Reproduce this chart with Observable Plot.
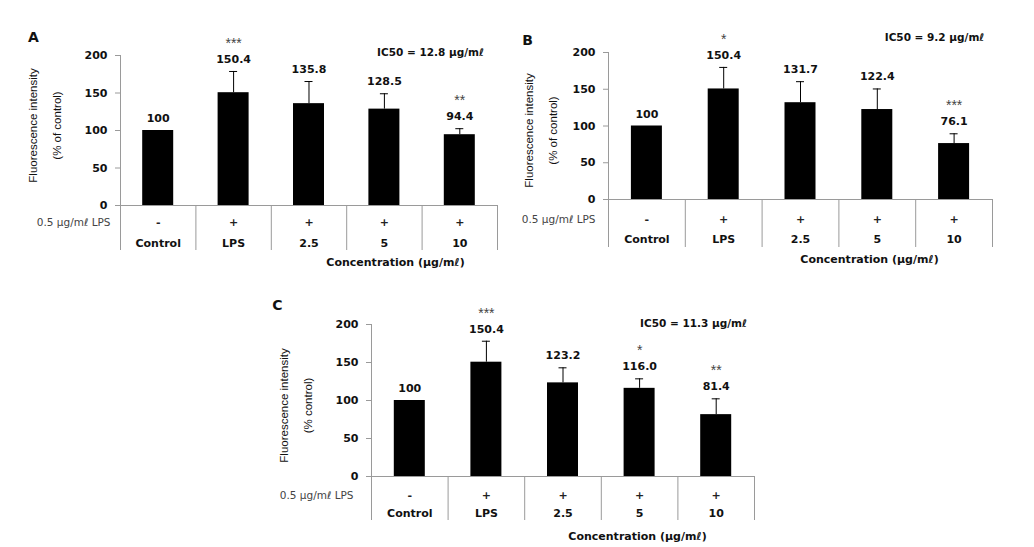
<!DOCTYPE html>
<html>
<head>
<meta charset="utf-8">
<script src="https://cdn.jsdelivr.net/npm/d3@7"></script>
<script src="https://cdn.jsdelivr.net/npm/@observablehq/plot@0.6"></script>
<style>
  html, body { margin: 0; padding: 0; background: #fff; }
  body { width: 1034px; height: 547px; position: relative; overflow: hidden; font-family: "DejaVu Sans", sans-serif; }
  .panel { position: absolute; }
</style>
</head>
<body>
<div id="panelA" class="panel"></div>
<div id="panelB" class="panel"></div>
<div id="panelC" class="panel"></div>
<script>
// ---------- data ----------
const categories = ["Control", "LPS", "2.5", "5", "10"];
const lpsSigns = ["-", "+", "+", "+", "+"];
const yTicks = [0, 50, 100, 150, 200];

const valuesA = [100, 150.4, 135.8, 128.5, 94.4];
const errorsA = [0, 28.3, 29.5, 20.5, 8.0];
const starsA = ["", "***", "", "", "**"];

const valuesB = [100, 150.4, 131.7, 122.4, 76.1];
const errorsB = [0, 29.3, 28.6, 28.0, 13.3];
const starsB = ["", "*", "", "", "***"];

const valuesC = [100, 150.4, 123.2, 116.0, 81.4];
const errorsC = [0, 27.6, 19.8, 12.5, 20.8];
const starsC = ["", "***", "", "*", "**"];

const panelLetters = ["A", "B", "C"];
const ic50Labels = ["IC50 = 12.8 μg/mℓ", "IC50 = 9.2 μg/mℓ", "IC50 = 11.3 μg/mℓ"];
const yTitles = ["Fluorescence intensity\n(% of control)", "Fluorescence intensity\n(% of control)", "Fluorescence intensity\n(% control)"];
const lpsRowLabel = "0.5 μg/mℓ LPS";
const xTitle = "Concentration (μg/mℓ)";

// ---------- layout (page pixel positions) ----------
const layouts = [
  {id: "panelA", left: 0, top: 20, width: 505, height: 260, plotLeft: 120, plotRight: 497, plotTop: 55, zeroY: 205, bottomY: 250,
   letter: [33, 37], ic50: [430, 52], lpsLabel: [110, 222], titleX: 41, titleY: 125, conc: [395, 262], rowDy: 17, catDy: 38},
  {id: "panelB", left: 500, top: 20, width: 530, height: 260, plotLeft: 608, plotRight: 992, plotTop: 52, zeroY: 199, bottomY: 247,
   letter: [527, 40], ic50: [934, 37], lpsLabel: [595, 219], titleX: 537, titleY: 130, conc: [869, 259], rowDy: 20, catDy: 40},
  {id: "panelC", left: 260, top: 290, width: 505, height: 257, plotLeft: 371, plotRight: 754, plotTop: 324, zeroY: 476, bottomY: 520,
   letter: [277, 305], ic50: [693, 323], lpsLabel: [353, 495], titleX: 292, titleY: 405, conc: [637, 536], rowDy: 19, catDy: 37}
];

const series = [
  {values: valuesA, errors: errorsA, stars: starsA},
  {values: valuesB, errors: errorsB, stars: starsB},
  {values: valuesC, errors: errorsC, stars: starsC}
];

const boldFont = "DejaVu Sans";
const gray = "#9a9a9a";

function drawPanel(k) {
  const L = layouts[k];
  const S = series[k];
  const data = categories.map((c, i) => ({
    cat: c, value: S.values[i], err: S.errors[i], star: S.stars[i], sign: lpsSigns[i],
    label: c === "Control" ? String(S.values[i]) : S.values[i].toFixed(1)
  }));
  const withErr = data.filter(d => d.err > 0);
  const band = (L.plotRight - L.plotLeft) / categories.length;
  const barW = 31;
  const inset = (band - barW) / 2;
  const yMin = -200 * (L.bottomY - L.zeroY) / (L.zeroY - L.plotTop);
  const fx = (x) => x - L.plotLeft;
  const fy = (y) => y - L.plotTop;

  const chart = Plot.plot({
    width: L.width,
    height: L.height,
    marginLeft: L.plotLeft - L.left,
    marginRight: L.left + L.width - L.plotRight,
    marginTop: L.plotTop - L.top,
    marginBottom: L.top + L.height - L.bottomY,
    style: {fontFamily: boldFont, fontSize: "11px", color: "#111", background: "#fff", overflow: "visible"},
    x: {type: "band", domain: categories, padding: 0, round: false, axis: null},
    y: {domain: [yMin, 200], axis: null},
    marks: [
      // y axis ticks + labels
      Plot.axisY({ticks: yTicks, tickSize: 5, tickPadding: 8, stroke: gray, fill: "#111", fontWeight: "bold", fontSize: 11, label: null}),
      // left axis line (continues into table)
      Plot.ruleX([categories[0]], {dx: -band / 2, y1: yMin, y2: 200, stroke: gray}),
      // table dividers
      Plot.ruleX(categories.slice(1), {dx: -band / 2, y1: yMin, y2: 0, stroke: gray}),
      Plot.ruleX([categories[categories.length - 1]], {dx: band / 2, y1: yMin, y2: 0, stroke: gray}),
      // x baseline
      Plot.ruleY([0], {stroke: gray}),
      // bars
      Plot.barY(data, {x: "cat", y: "value", fill: "#000", insetLeft: inset, insetRight: inset}),
      // error bars
      Plot.ruleX(withErr, {x: "cat", y1: "value", y2: d => d.value + d.err, stroke: "#000", strokeWidth: 1}),
      Plot.tickY(withErr, {x: "cat", y: d => d.value + d.err, stroke: "#000", strokeWidth: 1, insetLeft: band / 2 - 4, insetRight: band / 2 - 4}),
      // value labels
      Plot.text(data, {x: "cat", y: d => d.value + d.err, text: "label", dy: -12, fontWeight: "bold", fontSize: 11, fill: "#111", lineAnchor: "middle"}),
      // significance stars
      Plot.text(data.filter(d => d.star), {x: "cat", y: d => d.value + d.err, text: "star", dy: -28, fontSize: 14, fill: "#444", fontFamily: "Liberation Sans", lineAnchor: "middle"}),
      // LPS row
      Plot.text(data, {x: "cat", y: 0, text: "sign", dy: L.rowDy, fontWeight: "bold", fontSize: 11, fill: "#222", lineAnchor: "middle"}),
      // category labels
      Plot.text(data, {x: "cat", y: 0, text: "cat", dy: L.catDy, fontWeight: "bold", fontSize: 11, fill: "#111", lineAnchor: "middle"}),
      // row label
      Plot.text([lpsRowLabel], {frameAnchor: "top-left", dx: fx(L.lpsLabel[0]), dy: fy(L.lpsLabel[1]), textAnchor: "end", lineAnchor: "middle", fontSize: 10.5, fill: "#444"}),
      // x title
      Plot.text([xTitle], {frameAnchor: "top-left", dx: fx(L.conc[0]), dy: fy(L.conc[1]), textAnchor: "middle", lineAnchor: "middle", fontWeight: "bold", fontSize: 11, fill: "#111"}),
      // y title
      Plot.text([yTitles[k]], {frameAnchor: "top-left", dx: fx(L.titleX), dy: fy(L.titleY), rotate: -90, textAnchor: "middle", lineAnchor: "middle", lineHeight: 2.1, fontFamily: "Liberation Sans", fontSize: 11.5, fill: "#111"}),
      // panel letter
      Plot.text([panelLetters[k]], {frameAnchor: "top-left", dx: fx(L.letter[0]), dy: fy(L.letter[1]), textAnchor: "middle", lineAnchor: "middle", fontWeight: "bold", fontSize: 14, fill: "#111"}),
      // IC50
      Plot.text([ic50Labels[k]], {frameAnchor: "top-left", dx: fx(L.ic50[0]), dy: fy(L.ic50[1]), textAnchor: "middle", lineAnchor: "middle", fontWeight: "bold", fontSize: 10.5, fill: "#111"})
    ]
  });
  const host = document.getElementById(L.id);
  host.style.left = L.left + "px";
  host.style.top = L.top + "px";
  host.appendChild(chart);
}

[0, 1, 2].forEach(drawPanel);
</script>
</body>
</html>
